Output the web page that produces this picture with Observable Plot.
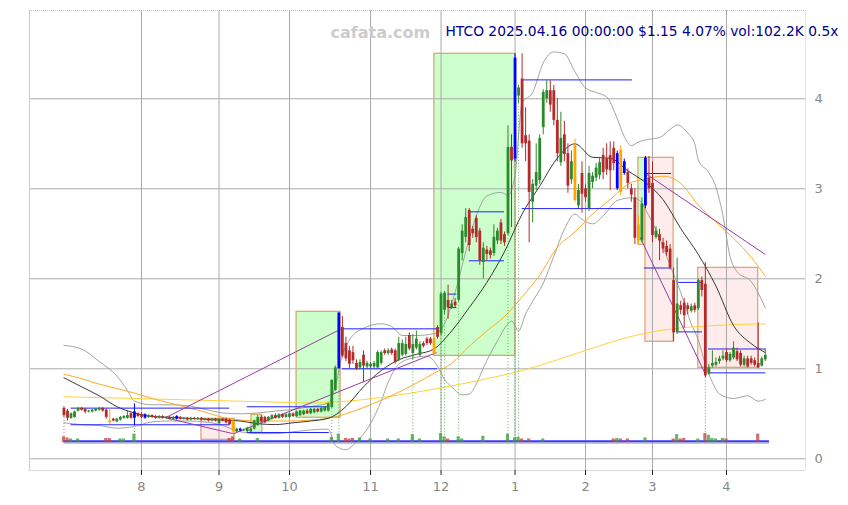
<!DOCTYPE html>
<html><head><meta charset="utf-8">
<script src="https://cdn.jsdelivr.net/npm/d3@7"></script>
<script src="https://cdn.jsdelivr.net/npm/@observablehq/plot@0.6"></script>
<style>html,body{margin:0;padding:0;background:#fff}#chart{width:848px;height:505px}</style>
</head><body><div id="chart"></div>
<script>
// ---- data: daily candles, index 0 = 2024-07-01 ... 199 = 2025-04-16 (trading days)
const open = [0.56,0.53,0.45,0.46,0.53,0.56,0.55,0.52,0.52,0.53,
0.54,0.56,0.54,0.42,0.44,0.41,0.43,0.45,0.45,0.50,
0.45,0.50,0.49,0.45,0.46,0.48,0.47,0.45,0.47,0.45,
0.46,0.44,0.44,0.46,0.44,0.45,0.43,0.45,0.44,0.45,
0.43,0.44,0.42,0.44,0.39,0.44,0.44,0.43,0.42,0.30,
0.31,0.31,0.30,0.30,0.33,0.37,0.46,0.46,0.42,0.44,
0.48,0.45,0.49,0.46,0.46,0.50,0.47,0.48,0.49,0.53,
0.50,0.51,0.55,0.52,0.53,0.53,0.57,0.76,1.00,1.46,
1.28,1.20,1.18,1.06,1.01,1.15,1.02,1.02,1.02,1.01,
1.06,1.20,1.17,1.21,1.20,1.09,1.15,1.16,1.37,1.17,
1.23,1.15,1.28,1.33,1.33,1.33,1.46,1.39,1.65,1.76,
1.68,1.74,1.76,2.28,2.46,2.76,2.55,2.67,2.53,2.18,
2.32,2.31,2.28,2.42,2.62,2.49,2.50,3.46,3.33,4.03,
4.22,3.59,3.53,2.85,3.03,3.09,3.68,4.00,4.09,4.09,
3.76,3.29,3.60,3.39,3.10,3.48,2.81,3.17,3.00,2.78,
3.07,3.12,3.15,3.37,3.33,3.37,3.45,3.00,3.43,3.30,
3.18,3.00,2.90,2.60,2.42,2.81,3.12,3.06,2.46,2.49,
2.40,2.36,2.33,1.98,1.40,1.70,1.73,1.70,1.64,1.70,
1.67,1.98,1.94,0.94,1.03,1.04,1.08,1.11,1.18,1.09,
1.12,1.19,1.17,1.04,1.11,1.11,1.09,1.06,1.03,1.10];
const high = [0.58,0.55,0.51,0.53,0.57,0.57,0.56,0.54,0.55,0.56,
0.57,0.57,0.55,0.56,0.45,0.45,0.47,0.48,0.53,0.51,
0.61,0.51,0.51,0.50,0.49,0.49,0.48,0.48,0.48,0.47,
0.47,0.47,0.48,0.47,0.46,0.46,0.46,0.46,0.46,0.46,
0.45,0.45,0.45,0.45,0.45,0.45,0.45,0.44,0.44,0.34,
0.34,0.33,0.35,0.34,0.43,0.48,0.48,0.47,0.47,0.49,
0.50,0.50,0.50,0.50,0.51,0.51,0.53,0.54,0.54,0.55,
0.56,0.56,0.56,0.57,0.58,0.62,0.88,1.03,1.62,1.58,
1.35,1.25,1.25,1.10,1.10,1.20,1.08,1.07,1.08,1.20,
1.20,1.22,1.22,1.23,1.22,1.35,1.32,1.35,1.40,1.38,
1.42,1.30,1.30,1.35,1.35,1.35,1.48,1.85,1.86,1.93,
1.76,1.78,2.35,2.60,2.78,2.78,2.58,2.70,2.56,2.40,
2.36,2.34,2.60,2.56,2.66,2.52,3.70,3.60,4.50,4.15,
4.50,3.90,3.60,3.10,3.50,3.60,4.10,4.20,4.20,4.15,
4.00,3.85,3.75,3.50,3.42,3.55,3.05,3.30,3.05,3.25,
3.18,3.28,3.35,3.45,3.50,3.52,3.52,3.42,3.48,3.33,
3.22,3.05,3.00,2.70,2.90,3.36,3.36,3.30,2.58,2.55,
2.45,2.42,2.38,2.12,2.23,1.75,1.78,1.73,1.72,1.73,
2.00,2.02,2.18,1.05,1.20,1.12,1.14,1.20,1.22,1.18,
1.30,1.23,1.20,1.14,1.14,1.14,1.12,1.51,1.13,1.22];
const low = [0.46,0.42,0.44,0.45,0.52,0.53,0.50,0.51,0.51,0.52,
0.53,0.52,0.44,0.38,0.41,0.40,0.42,0.44,0.44,0.44,
0.37,0.46,0.45,0.44,0.45,0.45,0.44,0.44,0.44,0.44,
0.43,0.43,0.43,0.43,0.43,0.42,0.42,0.43,0.43,0.42,
0.42,0.41,0.41,0.41,0.38,0.41,0.39,0.37,0.27,0.29,
0.30,0.30,0.29,0.29,0.32,0.36,0.40,0.39,0.41,0.43,
0.44,0.44,0.45,0.45,0.45,0.46,0.46,0.47,0.48,0.49,
0.49,0.50,0.51,0.51,0.52,0.52,0.56,0.75,1.00,1.12,
1.08,1.00,1.05,0.98,0.99,0.85,1.00,1.00,1.00,1.00,
1.04,1.15,1.15,1.15,1.05,1.08,1.13,1.14,1.20,1.10,
1.21,1.13,1.23,1.26,1.26,1.15,1.33,1.37,1.60,1.55,
1.66,1.68,1.74,2.20,2.40,2.30,2.45,2.40,2.15,2.00,
2.20,2.22,2.25,2.38,2.38,2.36,2.48,2.57,3.30,3.95,
3.45,3.30,2.40,2.62,2.98,3.05,3.60,3.95,3.85,3.70,
3.30,3.25,3.30,2.95,3.05,2.85,2.78,2.73,2.85,2.75,
3.00,3.08,3.10,3.10,3.15,2.98,3.20,2.98,2.92,3.15,
3.00,2.85,2.38,2.38,2.40,2.78,2.95,2.40,2.44,2.20,
2.28,2.25,2.10,1.30,1.38,1.60,1.45,1.60,1.62,1.62,
1.65,1.80,0.90,0.93,1.01,1.02,1.05,1.09,1.07,1.07,
1.10,1.08,1.02,1.02,1.01,1.04,1.02,1.00,1.02,1.08];
const close = [0.48,0.45,0.50,0.52,0.56,0.54,0.52,0.53,0.54,0.55,
0.56,0.53,0.46,0.40,0.42,0.44,0.46,0.47,0.48,0.45,
0.52,0.47,0.46,0.49,0.48,0.46,0.45,0.47,0.45,0.46,
0.44,0.46,0.47,0.44,0.45,0.43,0.45,0.44,0.45,0.43,
0.44,0.42,0.44,0.42,0.44,0.42,0.40,0.38,0.30,0.33,
0.33,0.32,0.34,0.33,0.42,0.46,0.41,0.40,0.46,0.48,
0.45,0.49,0.46,0.49,0.50,0.47,0.52,0.53,0.53,0.50,
0.55,0.55,0.52,0.56,0.57,0.61,0.87,1.01,1.62,1.14,
1.11,1.05,1.09,1.00,1.07,1.03,1.06,1.05,1.06,1.18,
1.18,1.17,1.20,1.17,1.07,1.28,1.28,1.27,1.22,1.27,
1.33,1.27,1.25,1.28,1.28,1.16,1.35,1.83,1.84,1.68,
1.72,1.70,2.33,2.53,2.68,2.37,2.50,2.46,2.20,2.34,
2.27,2.26,2.46,2.53,2.42,2.40,3.46,3.31,4.45,4.12,
3.50,3.50,2.96,3.05,3.18,3.56,4.07,4.09,3.93,3.76,
3.39,3.56,3.38,3.03,3.30,2.87,2.98,2.94,2.90,3.17,
3.14,3.23,3.29,3.18,3.21,3.20,3.28,3.39,2.96,3.17,
3.06,2.93,2.45,2.42,2.83,3.34,3.00,2.48,2.53,2.42,
2.33,2.29,2.12,1.40,1.72,1.65,1.59,1.66,1.69,1.65,
1.98,1.87,0.92,1.01,1.06,1.07,1.11,1.14,1.09,1.16,
1.23,1.10,1.04,1.11,1.02,1.06,1.04,1.01,1.11,1.15];
const blueDays = [20,23,32,50,78,128,157,159,165];
const orangeDays = [13,48,105,145,158,163];

// volume (K shares) on the days where a bar is visible
const volDays = [0,1,2,4,12,13,16,17,20,47,48,50,55,76,78,80,81,82,84,87,92,95,99,101,107,108,109,112,113,119,126,128,129,130,132,136,156,157,158,160,165,173,174,175,176,180,182,183,184,185,187,188,197];
const volK = [900,700,500,500,600,600,500,500,1400,600,900,500,600,800,1400,600,500,600,700,500,500,500,1300,500,1500,900,500,900,500,1000,1400,700,800,500,500,500,500,600,500,500,700,500,1300,500,600,500,1500,1200,600,500,600,500,1400];
const volumeBase = 0.19;
const dropDays = [0,20,76,78,99,107,108,112,126,128,129,182];

// axis ticks
const monthTicks = [22,44,64,87,107,128,148,167,188];
const monthLabels = ["8","9","10","11","12","1","2","3","4"];
const priceTicks = [0,1,2,3,4];
const priceLabels = ["0","1","2","3","4"];

// indicators
const gridDays = [0,5,10,15,20,25,30,35,40,45,50,55,60,65,70,75,80,85,90,95,100,105,110,115,120,125,130,135,140,145,150,155,160,165,170,175,180,185,190,195,199];
const maShort = [0.90,0.80,0.70,0.58,0.51,0.47,0.46,0.45,0.44,0.43,0.42,0.39,0.38,0.40,0.42,0.45,0.58,0.80,0.98,1.10,1.16,1.22,1.42,1.68,1.96,2.30,2.72,3.03,3.34,3.50,3.35,3.34,3.20,3.07,2.88,2.56,2.27,1.92,1.48,1.28,1.18];
const maMid = [0.94,0.89,0.83,0.78,0.73,0.67,0.62,0.57,0.52,0.46,0.43,0.42,0.42,0.42,0.43,0.45,0.50,0.57,0.65,0.74,0.84,0.95,1.06,1.25,1.42,1.58,1.80,2.04,2.35,2.52,2.72,2.88,3.05,3.11,3.14,3.06,2.82,2.63,2.45,2.24,2.03];
const maLongDays = [0,20,40,60,70,80,90,100,110,120,130,140,150,160,170,180,190,199];
const maLong = [0.69,0.67,0.65,0.63,0.62,0.64,0.68,0.74,0.81,0.89,0.98,1.10,1.23,1.35,1.43,1.47,1.49,1.50];
const upperDays = [0,5,10,15,18,20,25,30,35,40,45,50,55,60,65,70,75,77,79,81,85,90,93,96,100,105,108,111,114,117,120,124,126,128,130,133,136,139,142,145,148,151,154,157,159,161,163,166,169,172,174,177,179,180,183,185,187,189,191,195,199];
const upperBand = [1.26,1.22,1.08,0.92,0.76,0.64,0.60,0.60,0.59,0.55,0.51,0.50,0.51,0.53,0.55,0.58,0.62,0.80,1.15,1.32,1.45,1.50,1.47,1.37,1.37,1.39,1.50,1.85,2.30,2.70,2.92,2.96,2.93,3.15,3.95,4.07,4.40,4.52,4.50,4.30,4.12,4.07,4.02,3.78,3.58,3.48,3.52,3.55,3.57,3.66,3.71,3.62,3.50,3.32,3.18,3.02,2.70,2.25,2.08,1.97,1.68];
const lowerDays = [0,5,10,15,20,25,30,35,40,45,50,55,60,65,70,75,77,80,82,84,87,90,92,95,99,103,106,108,110,113,115,117,119,123,126,127,129,131,133,136,139,142,145,147,150,153,157,161,163,166,169,172,175,178,180,182,184,186,190,194,197,199];
const lowerBand = [0.40,0.38,0.37,0.34,0.36,0.41,0.42,0.42,0.41,0.37,0.30,0.28,0.28,0.30,0.32,0.33,0.15,0.10,0.15,0.23,0.39,0.64,0.85,1.05,1.12,1.14,1.03,0.88,0.80,0.71,0.72,0.83,1.01,1.31,1.50,1.53,1.42,1.61,1.75,1.95,2.25,2.55,2.72,2.66,2.61,2.70,2.87,2.90,2.88,2.70,2.45,2.15,1.85,1.50,1.32,1.05,0.85,0.72,0.67,0.70,0.64,0.66];

// support / resistance segments
const srStart = [2,2,52,52,79,79,115,115,130,130,164.7,164.7,174.4,174.4,182.9,182.9,109,109];
const srEnd   = [47,47,75.3,75.3,106,106,125,125,161.3,161.3,172.4,172.4,181.2,181.2,199.2,199.2,111.5,111.5];
const srLevel = [0.563,0.378,0.578,0.292,1.444,1.0,2.744,2.2,4.21,2.78,3.17,2.12,1.96,1.41,1.22,0.955,1.83,1.68];

// trend lines
const trendX1 = [28.8,28.8,48.1,165,163.5];
const trendY1 = [0.456,0.456,0.278,3.17,2.46];
const trendX2 = [78.5,48.1,105.7,199,182];
const trendY2 = [1.44,0.278,1.18,2.27,0.94];

// zones
const zoneStart = [66,105.1,163,165,180,39,53.2];
const zoneEnd   = [78.5,128.1,165,173,197,48.4,56.3];
const zoneLow   = [0.456,1.144,2.378,1.30,1.011,0.211,0.289];
const zoneHigh  = [1.633,4.5,3.344,3.344,2.122,0.444,0.489];
const zoneKind  = ["up","up","up","down","down","down","up"];

const titleText = "HTCO 2025.04.16 00:00:00 $1.15 4.07% vol:102.2K 0.5x";
const watermark = "cafata.com";

// ---- build tables
const GREEN = "#2b8a2b", RED = "#b42a2a";
const candles = d3.range(close.length).map(i => ({
  i, o: open[i], h: high[i], l: low[i], c: close[i],
  color: blueDays.includes(i) ? "#0000ff" : orangeDays.includes(i) ? "#ffa500" : (close[i] >= open[i] ? GREEN : RED)
}));
const pts = (days, vals) => days.map((d, k) => ({x: d, y: vals[k]}));
const vols = volDays.map((d, k) => ({i: d, v: volK[k], up: close[d] >= open[d]}));
const drops = dropDays.map(d => ({i: d, top: low[d], up: close[d] >= open[d]}));
const srs = srLevel.map((y, k) => ({x1: srStart[k], x2: srEnd[k], y}));
const trends = trendX1.map((x, k) => ({x1: x, y1: trendY1[k], x2: trendX2[k], y2: trendY2[k]}));
const zones = zoneStart.map((x, k) => ({x1: x, x2: zoneEnd[k], y1: zoneLow[k], y2: zoneHigh[k], kind: zoneKind[k]}));
const volUnit = 0.00006;

const XD = [-9.78, 210.42], YD = [-0.13, 4.981];

const chart = Plot.plot({
  width: 848, height: 505,
  marginLeft: 29, marginRight: 43, marginTop: 10, marginBottom: 35,
  x: {domain: XD},
  y: {domain: YD},
  color: {type: "identity"},
  style: {fontFamily: "DejaVu Sans", background: "#fff", overflow: "visible"},
  marks: [
    Plot.rect(zones, {x1: "x1", x2: "x2", y1: "y1", y2: "y2",
      fill: d => d.kind === "up" ? "#ccffcc" : "#fdeceb",
      stroke: "#d8914e", strokeOpacity: 0.85, strokeWidth: 1.2}),
    Plot.gridX(monthTicks, {stroke: "#aaa", strokeOpacity: 1}),
    Plot.gridY(priceTicks, {stroke: "#aaa", strokeOpacity: 1}),
    Plot.ruleX([XD[0]], {stroke: "#ccc"}),
    Plot.ruleX([XD[1]], {stroke: "#e4e4e4"}),
    Plot.ruleY([YD[0]], {stroke: "#ddd"}),
    Plot.ruleY([YD[1]], {stroke: "#bbb", strokeDasharray: "1,1"}),
    Plot.line(pts(upperDays, upperBand), {x: "x", y: "y", stroke: "#999", strokeWidth: 0.9, curve: "monotone-x"}),
    Plot.line(pts(lowerDays, lowerBand), {x: "x", y: "y", stroke: "#999", strokeWidth: 0.9, curve: "monotone-x"}),
    Plot.line(pts(maLongDays, maLong), {x: "x", y: "y", stroke: "#ffd23c", strokeWidth: 1, curve: "monotone-x"}),
    Plot.line(pts(gridDays, maMid), {x: "x", y: "y", stroke: "#ffaa22", strokeWidth: 1, curve: "monotone-x"}),
    Plot.line(pts(gridDays, maShort), {x: "x", y: "y", stroke: "#222", strokeWidth: 0.9, curve: "monotone-x"}),
    Plot.ruleY(srs, {y: "y", x1: "x1", x2: "x2", stroke: "#2222ff", strokeWidth: 1}),
    Plot.link(trends, {x1: "x1", y1: "y1", x2: "x2", y2: "y2", stroke: "#9b3aa8", strokeWidth: 1}),
    Plot.ruleY([volumeBase - 0.015], {x1: 0, x2: 200.2, stroke: "#999", strokeWidth: 1}),
    Plot.ruleY([volumeBase + 0.005], {x1: 0, x2: 200.2, stroke: "#3a3aff", strokeWidth: 2}),
    Plot.ruleX(drops, {x: "i", y1: "top", y2: d => volumeBase, stroke: d => d.up ? "#33aa33" : "#cc4444", strokeWidth: 0.8, strokeDasharray: "1,2"}),
    Plot.rect(vols, {x1: d => d.i - 0.45, x2: d => d.i + 0.45, y1: d => volumeBase - 0.01, y2: d => volumeBase + d.v * volUnit,
      fill: d => d.up ? "#3a9a3a" : "#c04040", fillOpacity: 0.75}),
    Plot.ruleX(candles, {x: "i", y1: "l", y2: "h", stroke: "color", strokeWidth: 1}),
    Plot.ruleX(candles, {x: "i", y1: "o", y2: "c", stroke: "color", strokeWidth: 2.8}),
    Plot.text([watermark], {frameAnchor: "top-left", dx: 301, dy: 16, textAnchor: "start", fill: "#cccccc", fontWeight: "bold", fontSize: 16}),
    Plot.text([titleText], {frameAnchor: "top-left", dx: 416, dy: 16, textAnchor: "start", fill: "#00008b", fontSize: 13.8}),
    Plot.axisX(monthTicks, {tickFormat: d => monthLabels[monthTicks.indexOf(d)], tickSize: 5, tickPadding: 6,
      stroke: "#222", fill: "#888", fontSize: 13, label: null}),
    Plot.axisY(priceTicks, {anchor: "right", tickSize: 0, tickPadding: 9, tickFormat: d => priceLabels[priceTicks.indexOf(d)],
      fill: "#888", fontSize: 13, label: null})
  ]
});
document.getElementById("chart").appendChild(chart);
</script>
</body></html>
